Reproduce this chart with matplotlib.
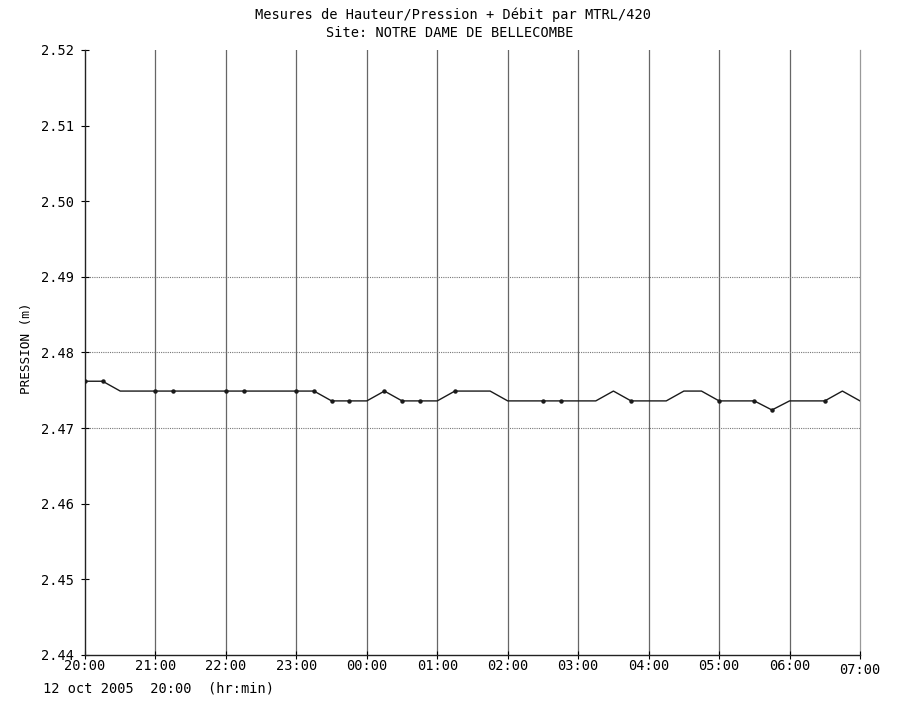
import matplotlib
matplotlib.use("Agg")
import matplotlib.pyplot as plt
import numpy as np

# Data: measurements every 15 minutes from 20:00 (hours since 20:00)
time_h = [i * 0.25 for i in range(45)]
pression = [2.4762, 2.4762, 2.4749, 2.4749, 2.4749, 2.4749, 2.4749, 2.4749,
            2.4749, 2.4749, 2.4749, 2.4749, 2.4749, 2.4749, 2.4736, 2.4736,
            2.4736, 2.4749, 2.4736, 2.4736, 2.4736, 2.4749, 2.4749, 2.4749,
            2.4736, 2.4736, 2.4736, 2.4736, 2.4736, 2.4736, 2.4749, 2.4736,
            2.4736, 2.4736, 2.4749, 2.4749, 2.4736, 2.4736, 2.4736, 2.4724,
            2.4736, 2.4736, 2.4736, 2.4749, 2.4736]
marked = [0, 1, 4, 5, 8, 9, 12, 13, 14, 15, 17, 18, 19, 21, 26, 27, 31, 36, 38, 39, 42]

x_ticks = list(range(12))
x_labels = ["20:00", "21:00", "22:00", "23:00", "00:00", "01:00", "02:00",
            "03:00", "04:00", "05:00", "06:00", "07:00"]
y_ticks = [2.44, 2.45, 2.46, 2.47, 2.48, 2.49, 2.50, 2.51, 2.52]
y_labels = ["2.44", "2.45", "2.46", "2.47", "2.48", "2.49", "2.50", "2.51", "2.52"]
grid_y = [2.47, 2.48, 2.49]

title1 = "Mesures de Hauteur/Pression + Débit par MTRL/420"
title2 = "Site: NOTRE DAME DE BELLECOMBE"
ylabel = "PRESSION (m)"
xlabel = "12 oct 2005  20:00  (hr:min)"

plt.rcParams['font.family'] = ['DejaVu Sans Mono']
FS = 9.8

fig = plt.figure(figsize=(8.99, 7.07), dpi=100)
ax = fig.add_axes([85/899, 1 - 655/707, (860-85)/899, (655-50)/707])

ax.set_xlim(0, 11)
ax.set_ylim(2.44, 2.52)

# grid lines
for xv in x_ticks[1:-1]:
    ax.axvline(xv, color="#666666", lw=0.9, zorder=1)
ax.axvline(x_ticks[-1], color="#999999", lw=0.9, zorder=1, clip_on=False)
for yv in grid_y:
    ax.axhline(yv, color="#777777", lw=0.8, ls=(0, (1, 1)), zorder=1)

ax.plot(time_h, pression, color="#1a1a1a", lw=1.0, marker="o", ms=2.2,
        markevery=marked, zorder=3)

for s in ["top", "right"]:
    ax.spines[s].set_visible(False)
ax.spines["left"].set_color("#222222")
ax.spines["bottom"].set_color("#222222")
ax.spines["left"].set_linewidth(1.0)
ax.spines["bottom"].set_linewidth(1.0)

ax.set_yticks(y_ticks)
ax.set_yticklabels(y_labels, fontsize=FS)
ax.set_xticks(x_ticks)
ax.set_xticklabels(x_labels, fontsize=FS)
ax.tick_params(axis="y", direction="inout", length=6, width=0.8, pad=5)
ax.tick_params(axis="x", direction="inout", length=6, width=0.8, pad=0)
ax.get_xticklabels()[-1].set_y(-0.006)

fig.text(27/899, 1 - 348/707, ylabel, rotation=90, fontsize=9.2,
         ha="center", va="center")
fig.text(43/899, 1 - 688/707, xlabel, fontsize=FS, ha="left", va="center")
fig.text(453/899, 1 - 15/707, title1, fontsize=FS, ha="center", va="center")
fig.text(450/899, 1 - 33/707, title2, fontsize=FS, ha="center", va="center")

fig.savefig("out.png", dpi=100)
